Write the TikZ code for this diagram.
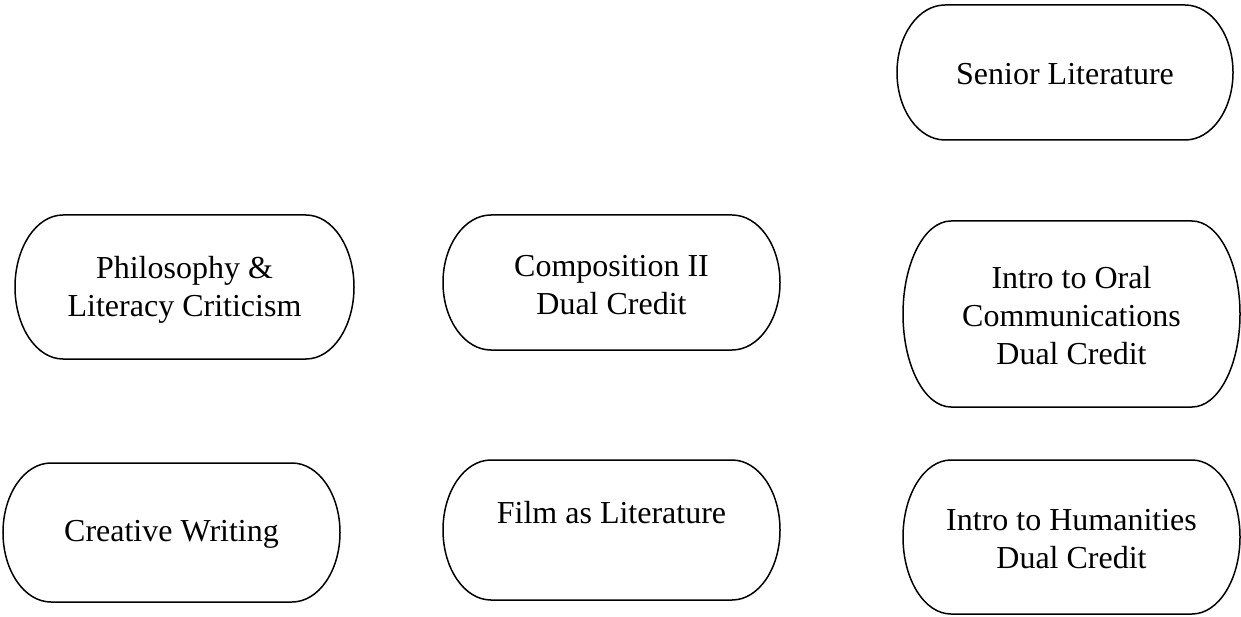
\documentclass[tikz,border=0pt]{standalone}
\usepackage{fontspec}
\setmainfont{Liberation Serif}
\newcommand\termbox[6]{% #1 name, #2 cx, #3 cy, #4 width, #5 height, #6 end radius (all px)
  \node[boxnode, minimum width=#4pt, minimum height=#5pt] (#1) at (#2,#3) {};
  \draw ([xshift=#6pt]#1.north west) -- ([xshift=-#6pt]#1.north east)
    arc[start angle=90, end angle=-90, x radius=#6pt, y radius=#5pt/2]
    -- ([xshift=#6pt]#1.south west)
    arc[start angle=270, end angle=90, x radius=#6pt, y radius=#5pt/2] -- cycle;
}
\begin{document}
\begin{tikzpicture}[x=1pt, y=-1pt, line width=1.5pt,
  boxnode/.style={draw=none, inner sep=0pt, outer sep=0pt},
  lbl/.style={align=center, inner sep=0pt, font=\fontsize{32}{38}\selectfont}]
\useasboundingbox (0,0) rectangle (1241,617);
\termbox{senior}{1065}{72.5}{336}{135}{48}
\termbox{philo}{184.5}{287}{339}{144}{48}
\termbox{comp}{611.5}{282.5}{337}{135}{48}
\termbox{oral}{1071.5}{314}{337}{186}{48}
\termbox{creative}{171.5}{532.5}{337}{139}{48}
\termbox{film}{611.5}{530}{337}{140}{48}
\termbox{human}{1071.5}{537}{337}{154}{48}
\node[lbl] (tsenior) at ([yshift=-2pt]senior.center) {Senior Literature};
\node[lbl] (tphilo) at ([yshift=-3pt]philo.center) {Philosophy \&\\Literacy Criticism};
\node[lbl] (tcomp) at ([yshift=-3pt]comp.center) {Composition II\\Dual Credit};
\node[lbl] (toral) at ([yshift=-2pt]oral.center) {Intro to Oral\\Communications\\Dual Credit};
\node[lbl] (tcreative) at ([yshift=-2pt]creative.center) {Creative Writing};
\node[lbl] (tfilm) at ([yshift=17pt]film.center) {Film as Literature};
\node[lbl] (thuman) at ([yshift=-2pt]human.center) {Intro to Humanities\\Dual Credit};
\end{tikzpicture}
\end{document}
